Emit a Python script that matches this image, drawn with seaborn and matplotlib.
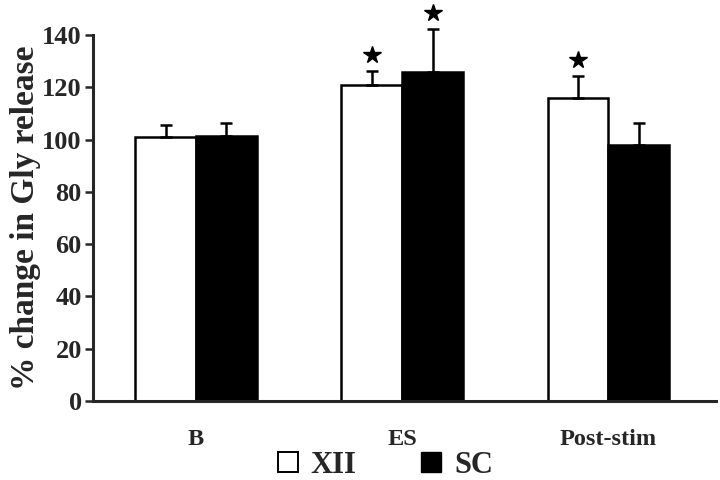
import pandas as pd
import seaborn as sns
import matplotlib.pyplot as plt
from matplotlib.lines import Line2D

# values
conditions = ["B", "ES", "Post-stim"]
groups = ["XII", "SC"]
xii_mean = [101.0, 121.0, 116.0]
sc_mean = [101.5, 125.7, 98.0]
xii_sem = [4.6, 5.3, 8.3]
sc_sem = [4.9, 16.7, 8.3]
xii_sig = [False, True, True]
sc_sig = [False, True, False]

df = pd.DataFrame({
    "condition": conditions * 2,
    "group": ["XII"] * 3 + ["SC"] * 3,
    "value": xii_mean + sc_mean,
    "sem": xii_sem + sc_sem,
    "sig": xii_sig + sc_sig,
})

sns.set_style("ticks")
plt.rcParams["font.family"] = ["Liberation Serif", "DejaVu Serif"]
plt.rcParams["font.weight"] = "bold"

fig, ax = plt.subplots(figsize=(7.2, 4.8), dpi=100)
fig.subplots_adjust(left=0.129, right=0.994, bottom=0.165, top=0.927)

sns.barplot(data=df, x="condition", y="value", hue="group",
            order=conditions, hue_order=groups,
            palette={"XII": "white", "SC": "black"},
            width=0.59, edgecolor="black", linewidth=1.8,
            errorbar=None, legend=False, ax=ax)

# error bars (upward only) and significance stars
for bars, g in zip(ax.containers, groups):
    sub = df[df["group"] == g].set_index("condition").loc[conditions]
    for bar, (_, row) in zip(bars, sub.iterrows()):
        xc = bar.get_x() + bar.get_width() / 2
        ax.errorbar(xc, row["value"], yerr=[[0], [row["sem"]]], fmt="none",
                    ecolor="black", elinewidth=1.8, capsize=4.5,
                    capthick=1.8, clip_on=False, zorder=1)
        if row["sig"]:
            ax.plot(xc, row["value"] + row["sem"] + 6.2, marker="*",
                    color="black", markersize=13, clip_on=False)

ax.set_ylim(0, 140)
ax.set_xlim(-0.5, 2.52)
ax.set_yticks(range(0, 141, 20))
ax.set_ylabel("% change in Gly release", fontsize=24, fontweight="bold",
              labelpad=1)
ax.set_xlabel("")
ax.tick_params(axis="y", labelsize=19, width=1.8, length=6, pad=2)
ax.tick_params(axis="x", labelsize=17.5, length=0, pad=20)
for lab in ax.get_xticklabels() + ax.get_yticklabels():
    lab.set_fontweight("bold")
sns.despine(ax=ax)
ax.spines["left"].set_linewidth(2.2)
ax.spines["bottom"].set_linewidth(2.2)

handles = [
    Line2D([], [], marker="s", linestyle="none", markersize=14,
           markerfacecolor="white", markeredgecolor="black", markeredgewidth=1.4),
    Line2D([], [], marker="s", linestyle="none", markersize=14,
           markerfacecolor="black", markeredgecolor="black"),
]
fig.legend(handles, groups, loc="center", bbox_to_anchor=(0.535, 0.031),
           ncol=2, frameon=False, handlelength=0.7, handletextpad=0.4,
           columnspacing=2.1, borderpad=0, borderaxespad=0,
           prop={"family": "Liberation Serif", "weight": "bold", "size": 22})

fig.savefig("out.png", dpi=100)
